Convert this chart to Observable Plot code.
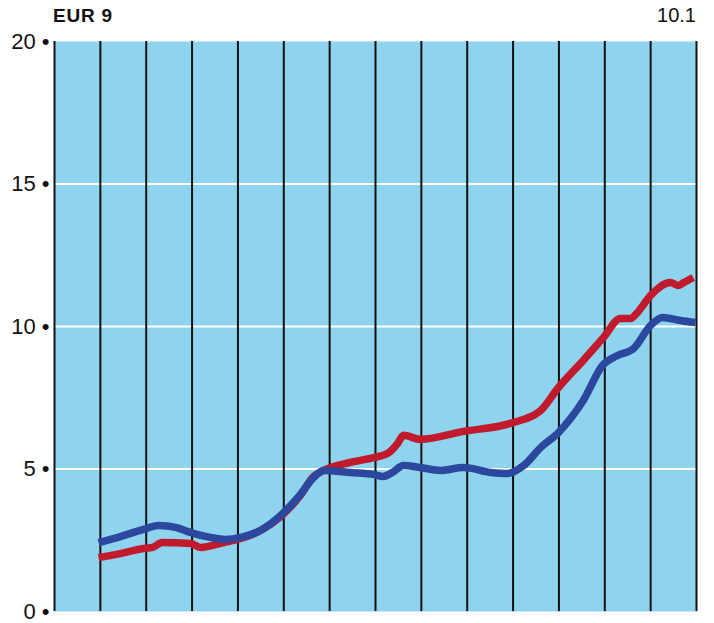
<!DOCTYPE html>
<html>
<head>
<meta charset="utf-8">
<script src="https://cdn.jsdelivr.net/npm/d3@7"></script>
<script src="https://cdn.jsdelivr.net/npm/@observablehq/plot@0.6"></script>
<style>
  html, body { margin: 0; padding: 0; background: #fff; }
  #wrap { position: relative; width: 714px; height: 623px; font-family: "Liberation Sans", Arial, sans-serif; }
  #title { position: absolute; left: 53px; top: 5px; font-size: 19px; font-weight: bold; letter-spacing: 0.8px; color: #111; }
  #note { position: absolute; right: 18px; top: 4px; font-size: 20px; color: #111; }
  #chart { position: absolute; left: 0; top: 0; }
</style>
</head>
<body>
<div id="wrap">
  <div id="chart"></div>
  <div id="title">EUR 9</div>
  <div id="note">10.1</div>
</div>
<script>
// x = position in period units (0..14), y = value
const periods = [0,1,2,3,4,5,6,7,8,9,10,11,12,13,14];
const yTicks = [0, 5, 10, 15, 20];
const gridValues = [5, 10, 15];

const blueX = [0.96,1.44,1.94,2.27,2.64,2.97,3.40,3.73,4.06,4.49,4.93,5.36,5.65,5.87,6.45,6.96,7.17,7.37,7.61,7.98,8.42,8.92,9.51,9.88,10.23,10.60,10.99,11.53,11.95,12.28,12.63,13.00,13.26,13.65,13.98];
const blueY = [2.42,2.63,2.88,3.02,2.95,2.77,2.60,2.53,2.60,2.84,3.37,4.10,4.70,4.95,4.88,4.81,4.74,4.88,5.12,5.05,4.95,5.05,4.88,4.84,5.12,5.75,6.28,7.40,8.63,8.98,9.23,10.04,10.32,10.21,10.14];

const redX = [0.96,1.44,1.94,2.14,2.35,2.97,3.18,3.69,4.06,4.49,4.93,5.36,5.65,5.87,6.45,6.96,7.26,7.48,7.61,7.98,8.92,9.94,10.60,10.99,11.53,11.97,12.34,12.56,12.71,13.00,13.43,13.61,13.72,13.93];
const redY = [1.89,2.03,2.21,2.25,2.42,2.39,2.25,2.42,2.56,2.84,3.33,4.07,4.74,4.95,5.23,5.40,5.54,5.89,6.18,6.04,6.32,6.60,7.05,7.86,8.81,9.61,10.28,10.28,10.49,11.09,11.54,11.44,11.54,11.72];

const blue = blueX.map((x, i) => ({x, y: blueY[i]}));
const red = redX.map((x, i) => ({x, y: redY[i]}));

const chart = Plot.plot({
  width: 714,
  height: 623,
  marginLeft: 54,
  marginRight: 18,
  marginTop: 41,
  marginBottom: 12,
  style: {background: "transparent", fontFamily: "'Liberation Sans', Arial, sans-serif"},
  x: {domain: [0, 14], axis: null},
  y: {domain: [0, 20]},
  marks: [
    Plot.frame({fill: "#8fd4ef", stroke: null}),
    Plot.ruleY(gridValues, {stroke: "#ffffff", strokeWidth: 2}),
    Plot.ruleX(periods, {stroke: "#111", strokeWidth: 2}),
    Plot.axisY(yTicks, {
      tickSize: 0,
      tickPadding: 5,
      fontSize: 22,
      fill: "#111",
      tickFormat: d => `${d} •`,
      label: null
    }),
    Plot.line(red, {x: "x", y: "y", stroke: "#c01a2c", strokeWidth: 7.5, curve: "monotone-x", strokeLinejoin: "round", strokeLinecap: "butt"}),
    Plot.line(blue, {x: "x", y: "y", stroke: "#2c479e", strokeWidth: 7.5, curve: "monotone-x", strokeLinejoin: "round", strokeLinecap: "butt"})
  ]
});
document.getElementById("chart").appendChild(chart);
</script>
</body>
</html>
